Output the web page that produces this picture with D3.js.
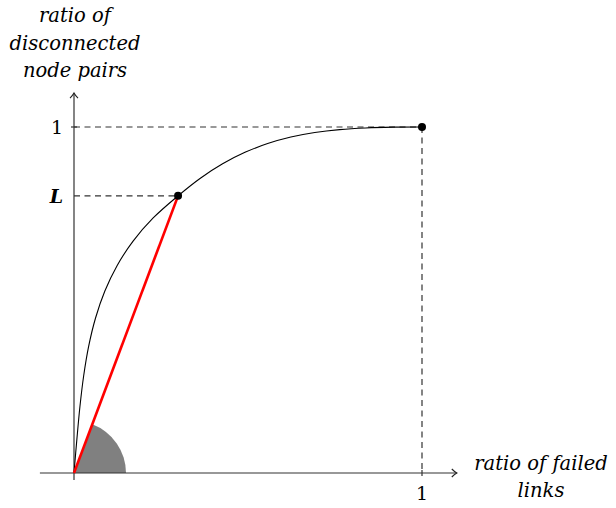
<!DOCTYPE html>
<html lang="en">
<head>
    <meta charset="UTF-8">
    <title>Ratio of disconnected node pairs</title>
    <script src="https://d3js.org/d3.v7.min.js"></script>
    <style>
        body { margin: 0; background: #fff; }
        text { font-family: "DejaVu Serif", "Liberation Serif", serif; fill: #000; }
        .lbl { font-style: italic; font-size: 19.5px; }
        .tick-lbl { font-size: 19px; }
        .axis-line { stroke: #333; stroke-width: 1.2; fill: none; }
        .guide { stroke: #333; stroke-width: 1.2; stroke-dasharray: 6 4.5; fill: none; }
    </style>
</head>
<body>
<div id="chart"></div>
<script>
// curve (x = ratio of failed links, y = ratio of disconnected pairs)
const curveX = [0, 0.0083, 0.0170, 0.0278, 0.0422, 0.0619, 0.0887, 0.1241, 0.1698, 0.2275, 0.299,
                0.3631, 0.4270, 0.4913, 0.5565, 0.6231, 0.6919, 0.7634, 0.8382, 0.9169, 1];
const curveY = [0, 0.0979, 0.1915, 0.2811, 0.3666, 0.4480, 0.5258, 0.5998, 0.6702, 0.7371, 0.801,
                0.8519, 0.8936, 0.9267, 0.9521, 0.9709, 0.9840, 0.9925, 0.9973, 0.9995, 1];

// marked points
const pointL = [0.299, 0.801];
const pointEnd = [1, 1];

const xTickValues = [1];
const yTickValues = [1, pointL[1]];
const yTickLabels = ["1", "L"];

const yTitle = ["ratio of", "disconnected", "node pairs"];
const xTitle = ["ratio of failed", "links"];

const W = 616, H = 508;

const x = d3.scaleLinear().domain([0, 1]).range([74, 422]);
const y = d3.scaleLinear().domain([0, 1]).range([473, 127]);

const svg = d3.select('#chart').append('svg')
    .attr('width', W)
    .attr('height', H);

// arrow heads like tikz "->"
svg.append('defs').append('marker')
    .attr('id', 'arr')
    .attr('viewBox', '-6 -5 8 10')
    .attr('refX', 0).attr('refY', 0)
    .attr('markerWidth', 8).attr('markerHeight', 10)
    .attr('markerUnits', 'userSpaceOnUse')
    .attr('orient', 'auto')
    .append('path')
    .attr('d', 'M-5,-4 Q-2,-1 0,0 Q-2,1 -5,4')
    .attr('fill', 'none')
    .attr('stroke', '#222')
    .attr('stroke-width', 1.1);

// gray sector between x axis and red chord
const ang = Math.atan2(x(pointL[0]) - x(0), y(0) - y(pointL[1]));
svg.append('path')
    .attr('transform', `translate(${x(0)},${y(0)})`)
    .attr('d', d3.arc()({ innerRadius: 0, outerRadius: 52, startAngle: ang, endAngle: Math.PI / 2 }))
    .attr('fill', '#808080');

// dashed guides
svg.append('line').attr('class', 'guide')
    .attr('x1', x(0)).attr('y1', y(1)).attr('x2', x(pointEnd[0])).attr('y2', y(1));
svg.append('line').attr('class', 'guide')
    .attr('x1', x(1)).attr('y1', y(pointEnd[1])).attr('x2', x(1)).attr('y2', y(0));
svg.append('line').attr('class', 'guide')
    .attr('x1', x(0)).attr('y1', y(pointL[1])).attr('x2', x(pointL[0])).attr('y2', y(pointL[1]));

// axes
svg.append('line').attr('class', 'axis-line')
    .attr('x1', x(-0.098)).attr('y1', y(0)).attr('x2', x(1.1)).attr('y2', y(0))
    .attr('marker-end', 'url(#arr)');
svg.append('line').attr('class', 'axis-line')
    .attr('x1', x(0)).attr('y1', y(-0.02)).attr('x2', x(0)).attr('y2', y(1.098))
    .attr('marker-end', 'url(#arr)');

// ticks
svg.selectAll('.xt').data(xTickValues).enter().append('line')
    .attr('class', 'axis-line')
    .attr('x1', d => x(d)).attr('x2', d => x(d))
    .attr('y1', y(0) - 3).attr('y2', y(0) + 3);
svg.selectAll('.xtl').data(xTickValues).enter().append('text')
    .attr('class', 'tick-lbl')
    .attr('x', d => x(d)).attr('y', y(0) + 27)
    .attr('text-anchor', 'middle')
    .text(d => d);

svg.selectAll('.yt').data(yTickValues.slice(0, 1)).enter().append('line')
    .attr('class', 'axis-line')
    .attr('x1', x(0) - 3).attr('x2', x(0) + 3)
    .attr('y1', d => y(d)).attr('y2', d => y(d));
svg.selectAll('.ytl').data(yTickValues).enter().append('text')
    .attr('class', 'tick-lbl')
    .attr('x', x(0) - 11).attr('y', d => y(d) + 7)
    .attr('text-anchor', 'end')
    .style('font-style', (d, i) => i === 1 ? 'italic' : 'normal')
    .style('font-weight', (d, i) => i === 1 ? 'bold' : 'normal')
    .text((d, i) => yTickLabels[i]);

// curve
const pts = curveX.map((v, i) => [x(v), y(curveY[i])]);
svg.append('path')
    .attr('d', d3.line().curve(d3.curveCatmullRom.alpha(0.5))(pts))
    .attr('fill', 'none')
    .attr('stroke', '#000')
    .attr('stroke-width', 1.1);

// red chord
svg.append('line')
    .attr('x1', x(0)).attr('y1', y(0))
    .attr('x2', x(pointL[0])).attr('y2', y(pointL[1]))
    .attr('stroke', '#ff0000')
    .attr('stroke-width', 2.6);

// dots
svg.selectAll('.dot').data([pointL, pointEnd]).enter().append('circle')
    .attr('cx', d => x(d[0])).attr('cy', d => y(d[1]))
    .attr('r', 4)
    .attr('fill', '#000');

// axis titles
svg.selectAll('.yti').data(yTitle).enter().append('text')
    .attr('class', 'lbl')
    .attr('x', 75).attr('y', (d, i) => 22 + i * 27.5)
    .attr('text-anchor', 'middle')
    .text(d => d);
svg.selectAll('.xti').data(xTitle).enter().append('text')
    .attr('class', 'lbl')
    .attr('x', 541).attr('y', (d, i) => 470 + i * 27)
    .attr('text-anchor', 'middle')
    .text(d => d);
</script>
</body>
</html>
